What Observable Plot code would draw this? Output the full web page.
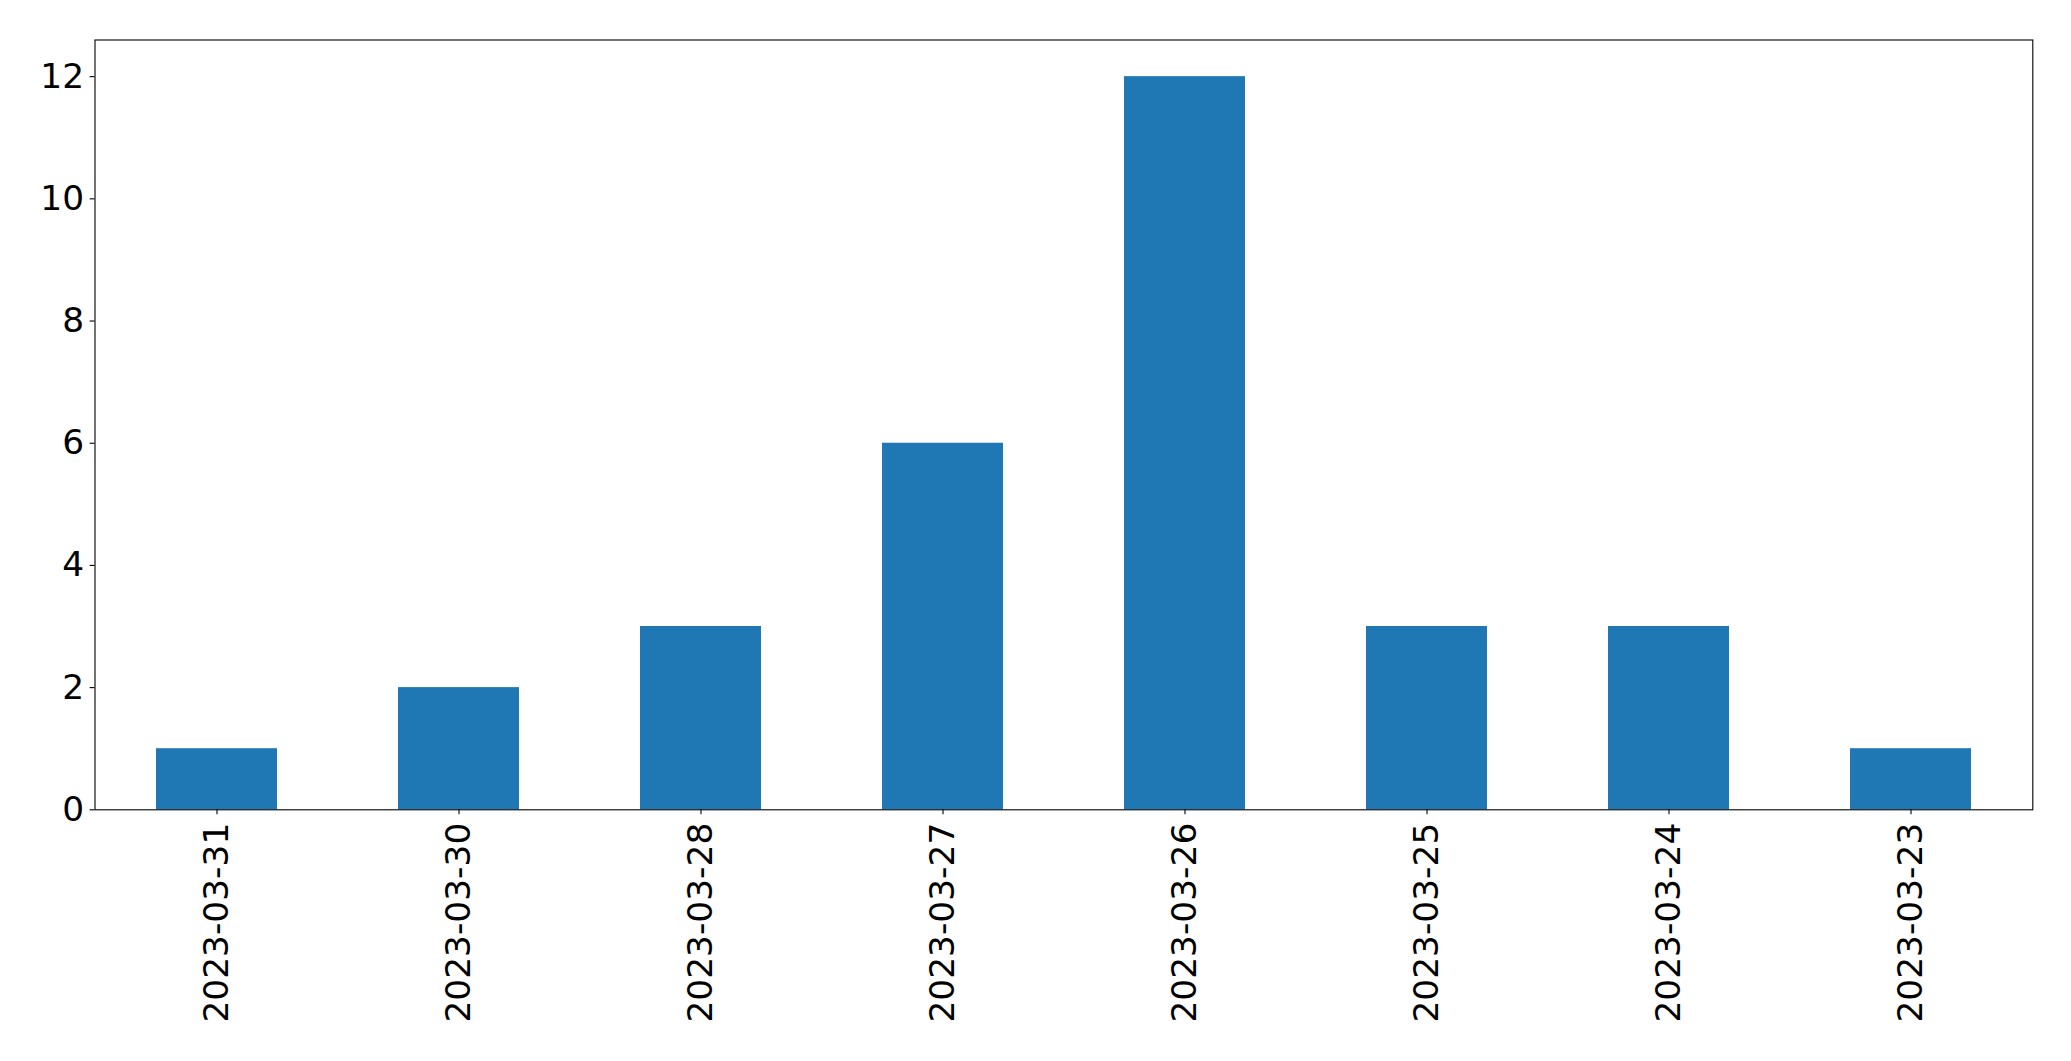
<!DOCTYPE html>
<html>
<head>
<meta charset="utf-8">
<script src="https://cdn.jsdelivr.net/npm/d3@7"></script>
<script src="https://cdn.jsdelivr.net/npm/@observablehq/plot@0.6"></script>
<style>
  html, body { margin: 0; padding: 0; background: white; }
  #chart svg { display: block; }
</style>
</head>
<body>
<div id="chart"></div>
<script>
const dates = ["2023-03-31", "2023-03-30", "2023-03-28", "2023-03-27", "2023-03-26", "2023-03-25", "2023-03-24", "2023-03-23"];
const counts = [1, 2, 3, 6, 12, 3, 3, 1];
const yTicks = [0, 2, 4, 6, 8, 10, 12];

const data = dates.map((d, i) => ({date: d, count: counts[i]}));
const FS = 34.4;

const chart = Plot.plot({
  width: 2071,
  height: 1061,
  marginLeft: 94.5,
  marginRight: 38.7,
  marginTop: 39.5,
  marginBottom: 251.7,
  style: {fontFamily: "DejaVu Sans", background: "white", color: "black"},
  x: {domain: dates, paddingInner: 0.5, paddingOuter: 0.25, label: null},
  y: {domain: [0, 12.6], label: null},
  marks: [
    Plot.barY(data, {x: "date", y: "count", fill: "#1f77b4"}),
    Plot.frame({stroke: "black", strokeWidth: 1.1}),
    Plot.axisX({tickRotate: -90, tickSize: 4.9, tickPadding: 8, fontSize: FS, label: null, stroke: "black", strokeWidth: 1.1}),
    Plot.axisY({ticks: yTicks, tickSize: 4.9, tickPadding: 6, fontSize: FS, label: null, stroke: "black", strokeWidth: 1.1})
  ]
});
document.getElementById("chart").appendChild(chart);
</script>
</body>
</html>
